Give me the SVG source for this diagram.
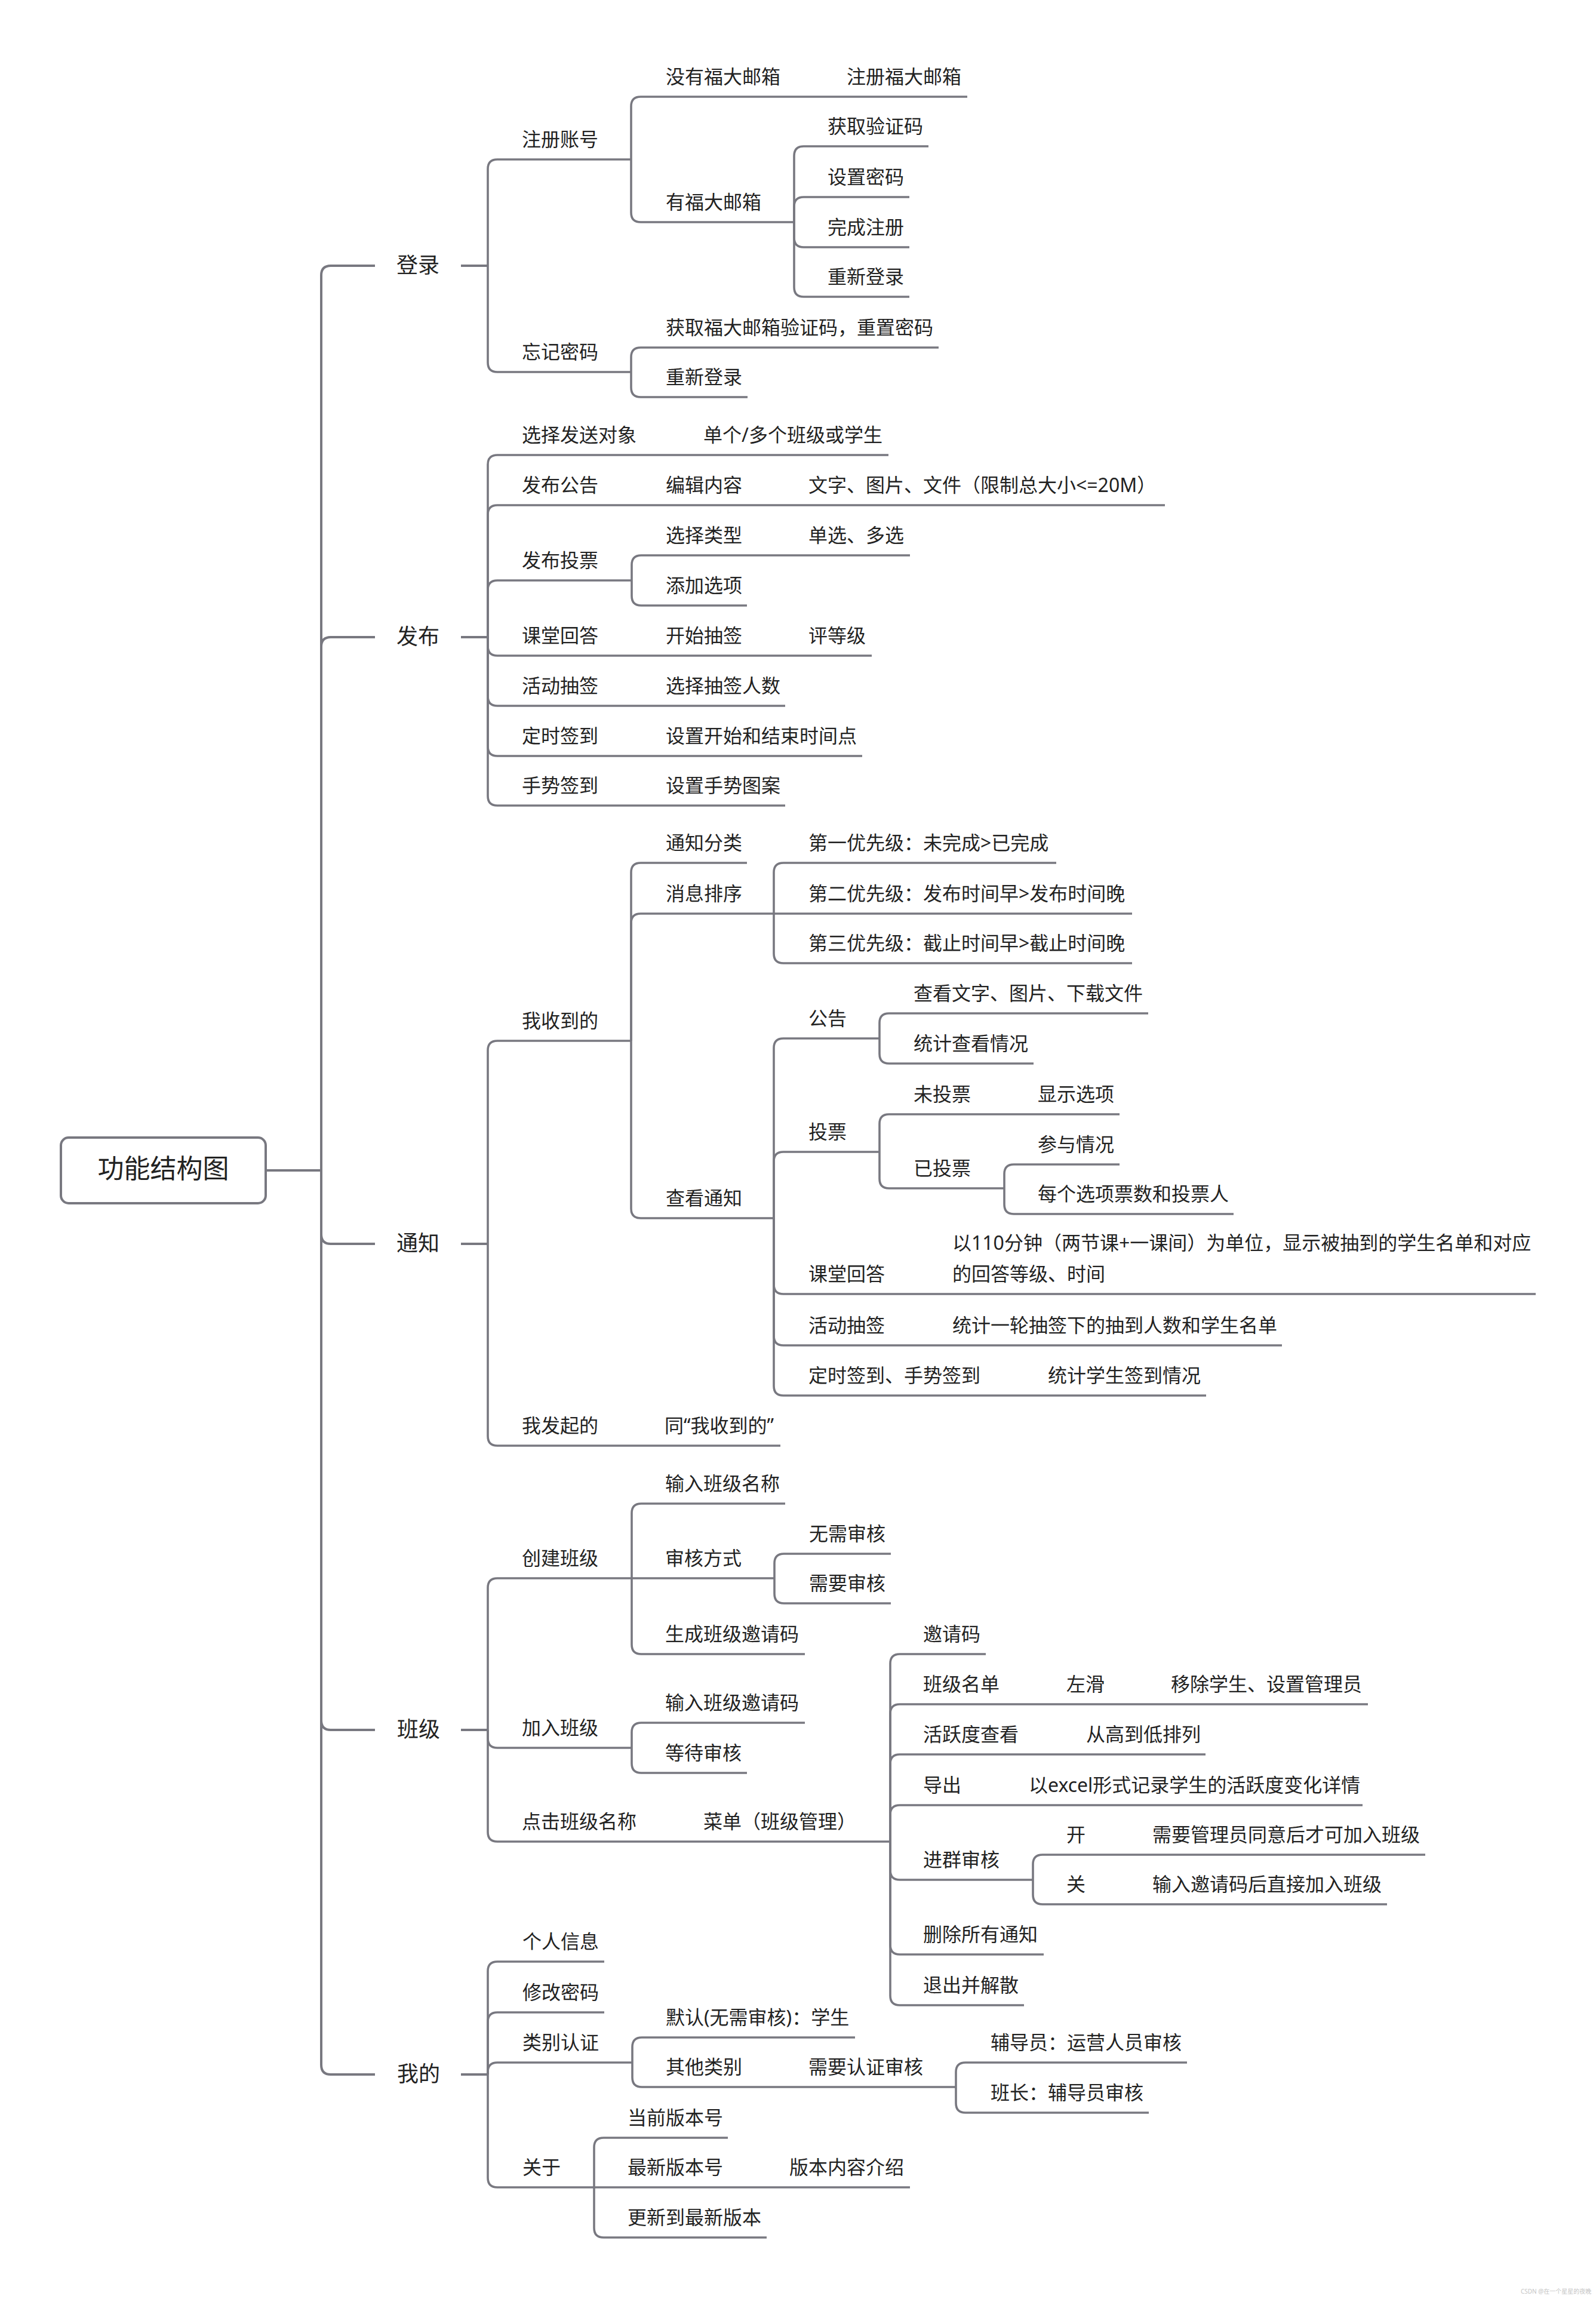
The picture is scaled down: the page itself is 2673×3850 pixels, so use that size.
<svg xmlns="http://www.w3.org/2000/svg" width="2673" height="3850" viewBox="0 0 2673 3850">
<style>
.c{fill:none;stroke:#787880;stroke-width:3.6}
.m{stroke-width:4}
text{font-family:"Noto Sans","Noto Sans CJK SC",sans-serif;font-size:32px;fill:#222}
.t1{font-size:36px}
.t0{font-size:44px}
.wm{font-size:10px;fill:#c4c4c4}
</style>
<rect width="2673" height="3850" fill="#fff"/>
<g id="connectors">
<path class="c m" d="M445 1960H538"/>
<path class="c m" d="M538 1960V461Q538 445 554 445H628M772 445H817"/>
<path class="c m" d="M538 1960V1083Q538 1067 554 1067H628M772 1067H817"/>
<path class="c m" d="M538 1960V2067Q538 2083 554 2083H628M772 2083H817"/>
<path class="c m" d="M538 1960V2881Q538 2897 554 2897H628M772 2897H817"/>
<path class="c m" d="M538 1960V3458Q538 3474 554 3474H628M772 3474H817"/>
<!-- 登录 -->
<path class="c" d="M817 445V283Q817 267 833 267H1057"/>
<path class="c" d="M817 445V607Q817 623 833 623H1057"/>
<path class="c" d="M1057 267V178Q1057 162 1073 162H1620"/>
<path class="c" d="M1057 267V356Q1057 372 1073 372H1330"/>
<path class="c" d="M1330 372V261Q1330 245 1346 245H1555"/>
<path class="c" d="M1330 372V346Q1330 330 1346 330H1523"/>
<path class="c" d="M1330 372V398Q1330 414 1346 414H1523"/>
<path class="c" d="M1330 372V481Q1330 497 1346 497H1523"/>
<path class="c" d="M1057 623V598Q1057 582 1073 582H1572"/>
<path class="c" d="M1057 623V649Q1057 665 1073 665H1252"/>
<!-- 发布 -->
<path class="c" d="M817 1067V778Q817 762 833 762H1488"/>
<path class="c" d="M817 1067V862Q817 846 833 846H1951"/>
<path class="c" d="M817 1067V988Q817 972 833 972H1058"/>
<path class="c" d="M1058 972V946Q1058 930 1074 930H1524"/>
<path class="c" d="M1058 972V998Q1058 1014 1074 1014H1251"/>
<path class="c" d="M817 1067V1082Q817 1098 833 1098H1460"/>
<path class="c" d="M817 1067V1166Q817 1182 833 1182H1315"/>
<path class="c" d="M817 1067V1250Q817 1266 833 1266H1444"/>
<path class="c" d="M817 1067V1333Q817 1349 833 1349H1315"/>
<!-- 通知 -->
<path class="c" d="M817 2083V1759Q817 1743 833 1743H1057"/>
<path class="c" d="M817 2083V2405Q817 2421 833 2421H1307"/>
<path class="c" d="M1057 1743V1461Q1057 1445 1073 1445H1251"/>
<path class="c" d="M1057 1743V1546Q1057 1530 1073 1530H1296"/>
<path class="c" d="M1057 1743V2024Q1057 2040 1073 2040H1296"/>
<path class="c" d="M1296 1530V1461Q1296 1445 1312 1445H1769"/>
<path class="c" d="M1296 1530H1896"/>
<path class="c" d="M1296 1530V1597Q1296 1613 1312 1613H1896"/>
<path class="c" d="M1296 2040V1755Q1296 1739 1312 1739H1473"/>
<path class="c" d="M1296 2040V1945Q1296 1929 1312 1929H1473"/>
<path class="c" d="M1296 2040V2151Q1296 2167 1312 2167H2572"/>
<path class="c" d="M1296 2040V2237Q1296 2253 1312 2253H2147"/>
<path class="c" d="M1296 2040V2321Q1296 2337 1312 2337H2020"/>
<path class="c" d="M1473 1739V1713Q1473 1697 1489 1697H1923"/>
<path class="c" d="M1473 1739V1765Q1473 1781 1489 1781H1731"/>
<path class="c" d="M1473 1929V1882Q1473 1866 1489 1866H1875"/>
<path class="c" d="M1473 1929V1974Q1473 1990 1489 1990H1682"/>
<path class="c" d="M1682 1990V1966Q1682 1950 1698 1950H1875"/>
<path class="c" d="M1682 1990V2017Q1682 2033 1698 2033H2066"/>
<!-- 班级 -->
<path class="c" d="M817 2897V2659Q817 2643 833 2643H1058"/>
<path class="c" d="M817 2897V2911Q817 2927 833 2927H1058"/>
<path class="c" d="M817 2897V3068Q817 3084 833 3084H1491"/>
<path class="c" d="M1058 2643V2534Q1058 2518 1074 2518H1315"/>
<path class="c" d="M1058 2643H1297"/>
<path class="c" d="M1058 2643V2754Q1058 2770 1074 2770H1348"/>
<path class="c" d="M1297 2643V2618Q1297 2602 1313 2602H1492"/>
<path class="c" d="M1297 2643V2669Q1297 2685 1313 2685H1492"/>
<path class="c" d="M1058 2927V2901Q1058 2885 1074 2885H1348"/>
<path class="c" d="M1058 2927V2953Q1058 2969 1074 2969H1251"/>
<path class="c" d="M1491 3084V2786Q1491 2770 1507 2770H1651"/>
<path class="c" d="M1491 3084V2870Q1491 2854 1507 2854H2291"/>
<path class="c" d="M1491 3084V2954Q1491 2938 1507 2938H2019"/>
<path class="c" d="M1491 3084V3039Q1491 3023 1507 3023H2282"/>
<path class="c" d="M1491 3084V3132Q1491 3148 1507 3148H1730"/>
<path class="c" d="M1491 3084V3257Q1491 3273 1507 3273H1748"/>
<path class="c" d="M1491 3084V3342Q1491 3358 1507 3358H1715"/>
<path class="c" d="M1730 3148V3122Q1730 3106 1746 3106H2387"/>
<path class="c" d="M1730 3148V3173Q1730 3189 1746 3189H2323"/>
<!-- 我的 -->
<path class="c" d="M817 3474V3301Q817 3285 833 3285H1012"/>
<path class="c" d="M817 3474V3386Q817 3370 833 3370H1012"/>
<path class="c" d="M817 3474V3470Q817 3454 833 3454H1059"/>
<path class="c" d="M817 3474V3647Q817 3663 833 3663H995"/>
<path class="c" d="M1059 3454V3428Q1059 3412 1075 3412H1432"/>
<path class="c" d="M1059 3454V3479Q1059 3495 1075 3495H1601"/>
<path class="c" d="M1601 3495V3470Q1601 3454 1617 3454H1988"/>
<path class="c" d="M1601 3495V3522Q1601 3538 1617 3538H1924"/>
<path class="c" d="M995 3663V3596Q995 3580 1011 3580H1219"/>
<path class="c" d="M995 3663H1524"/>
<path class="c" d="M995 3663V3731Q995 3747 1011 3747H1284"/>
</g>
<g id="root"><rect x="102" y="1905" width="343" height="110" rx="13" fill="#fff" stroke="#787880" stroke-width="4"/><text class="t0" x="273.5" y="1973" text-anchor="middle">功能结构图</text></g>
<g id="login"><text class="t1" x="664" y="457">登录</text></g>
<g id="n-zczh"><text x="874" y="245">注册账号</text></g>
<g id="n-myfd"><text x="1115" y="140">没有福大邮箱</text></g>
<g id="n-zcfd"><text x="1418" y="140">注册福大邮箱</text></g>
<g id="n-yfd"><text x="1115" y="350">有福大邮箱</text></g>
<g id="n-hqyzm"><text x="1386" y="223">获取验证码</text></g>
<g id="n-szmm"><text x="1386" y="308">设置密码</text></g>
<g id="n-wczc"><text x="1386" y="392">完成注册</text></g>
<g id="n-cxdl1"><text x="1386" y="475">重新登录</text></g>
<g id="n-wjmm"><text x="874" y="601">忘记密码</text></g>
<g id="n-hqfd"><text x="1115" y="560">获取福大邮箱验证码，重置密码</text></g>
<g id="n-cxdl2"><text x="1115" y="643">重新登录</text></g>
<g id="publish"><text class="t1" x="664" y="1079">发布</text></g>
<g id="n-xzfs"><text x="874" y="740">选择发送对象</text></g>
<g id="n-dg"><text x="1178" y="740">单个/多个班级或学生</text></g>
<g id="n-fbgg"><text x="874" y="824">发布公告</text></g>
<g id="n-bjnr"><text x="1115" y="824">编辑内容</text></g>
<g id="n-wz"><text x="1354" y="824">文字、图片、文件（限制总大小&lt;=20M）</text></g>
<g id="n-fbtp"><text x="874" y="950">发布投票</text></g>
<g id="n-xzlx"><text x="1115" y="908">选择类型</text></g>
<g id="n-dx"><text x="1354" y="908">单选、多选</text></g>
<g id="n-tjxx"><text x="1115" y="992">添加选项</text></g>
<g id="n-kthd1"><text x="874" y="1076">课堂回答</text></g>
<g id="n-kscq"><text x="1115" y="1076">开始抽签</text></g>
<g id="n-pdj"><text x="1354" y="1076">评等级</text></g>
<g id="n-hdcq1"><text x="874" y="1160">活动抽签</text></g>
<g id="n-xzcq"><text x="1115" y="1160">选择抽签人数</text></g>
<g id="n-dsqd"><text x="874" y="1244">定时签到</text></g>
<g id="n-szks"><text x="1115" y="1244">设置开始和结束时间点</text></g>
<g id="n-ssqd"><text x="874" y="1327">手势签到</text></g>
<g id="n-szss"><text x="1115" y="1327">设置手势图案</text></g>
<g id="notice"><text class="t1" x="664" y="2095">通知</text></g>
<g id="n-wsdd"><text x="874" y="1721">我收到的</text></g>
<g id="n-tzfl"><text x="1115" y="1423">通知分类</text></g>
<g id="n-xxpx"><text x="1115" y="1508">消息排序</text></g>
<g id="n-p1"><text x="1354" y="1423">第一优先级：未完成&gt;已完成</text></g>
<g id="n-p2"><text x="1354" y="1508">第二优先级：发布时间早&gt;发布时间晚</text></g>
<g id="n-p3"><text x="1354" y="1591">第三优先级：截止时间早&gt;截止时间晚</text></g>
<g id="n-cktz"><text x="1115" y="2018">查看通知</text></g>
<g id="n-gg"><text x="1354" y="1717">公告</text></g>
<g id="n-ckwz"><text x="1530" y="1675">查看文字、图片、下载文件</text></g>
<g id="n-tjck"><text x="1530" y="1759">统计查看情况</text></g>
<g id="n-tp"><text x="1354" y="1907">投票</text></g>
<g id="n-wtp"><text x="1530" y="1844">未投票</text></g>
<g id="n-xsxx"><text x="1738" y="1844">显示选项</text></g>
<g id="n-ytp"><text x="1530" y="1968">已投票</text></g>
<g id="n-cyqk"><text x="1738" y="1928">参与情况</text></g>
<g id="n-mgxx"><text x="1738" y="2011">每个选项票数和投票人</text></g>
<g id="n-kthd2"><text x="1354" y="2145">课堂回答</text></g>
<g id="n-y110"><text x="1595" y="2093">以110分钟（两节课+一课间）为单位，显示被抽到的学生名单和对应</text><text x="1595" y="2145">的回答等级、时间</text></g>
<g id="n-hdcq2"><text x="1354" y="2231">活动抽签</text></g>
<g id="n-tjyl"><text x="1595" y="2231">统计一轮抽签下的抽到人数和学生名单</text></g>
<g id="n-dsss"><text x="1354" y="2315">定时签到、手势签到</text></g>
<g id="n-tjxs"><text x="1755" y="2315">统计学生签到情况</text></g>
<g id="n-wfqd"><text x="874" y="2399">我发起的</text></g>
<g id="n-t"><text x="1113" y="2399">同“我收到的”</text></g>
<g id="class"><text class="t1" x="665" y="2909">班级</text></g>
<g id="n-cjbj"><text x="874" y="2621">创建班级</text></g>
<g id="n-srmc"><text x="1114" y="2496">输入班级名称</text></g>
<g id="n-shfs"><text x="1114" y="2621">审核方式</text></g>
<g id="n-wxsh"><text x="1355" y="2580">无需审核</text></g>
<g id="n-xysh"><text x="1355" y="2663">需要审核</text></g>
<g id="n-scyq"><text x="1114" y="2748">生成班级邀请码</text></g>
<g id="n-jrbj"><text x="874" y="2905">加入班级</text></g>
<g id="n-sryq"><text x="1114" y="2863">输入班级邀请码</text></g>
<g id="n-ddsh"><text x="1114" y="2947">等待审核</text></g>
<g id="n-djmc"><text x="874" y="3062">点击班级名称</text></g>
<g id="n-cd"><text x="1178" y="3062">菜单（班级管理）</text></g>
<g id="n-yqm"><text x="1546" y="2748">邀请码</text></g>
<g id="n-bjmd"><text x="1546" y="2832">班级名单</text></g>
<g id="n-zh"><text x="1786" y="2832">左滑</text></g>
<g id="n-ycxs"><text x="1961" y="2832">移除学生、设置管理员</text></g>
<g id="n-hyd"><text x="1546" y="2916">活跃度查看</text></g>
<g id="n-cgdd"><text x="1819" y="2916">从高到低排列</text></g>
<g id="n-dc"><text x="1546" y="3001">导出</text></g>
<g id="n-excel"><text x="1723" y="3001">以excel形式记录学生的活跃度变化详情</text></g>
<g id="n-jqsh"><text x="1546" y="3126">进群审核</text></g>
<g id="n-k"><text x="1786" y="3084">开</text></g>
<g id="n-xygl"><text x="1930" y="3084">需要管理员同意后才可加入班级</text></g>
<g id="n-g"><text x="1786" y="3167">关</text></g>
<g id="n-sryqh"><text x="1930" y="3167">输入邀请码后直接加入班级</text></g>
<g id="n-scsy"><text x="1546" y="3251">删除所有通知</text></g>
<g id="n-tcjs"><text x="1546" y="3336">退出并解散</text></g>
<g id="mine"><text class="t1" x="665" y="3486">我的</text></g>
<g id="n-grxx"><text x="875" y="3263">个人信息</text></g>
<g id="n-xgmm"><text x="875" y="3348">修改密码</text></g>
<g id="n-lbrz"><text x="875" y="3432">类别认证</text></g>
<g id="n-mr"><text x="1115" y="3390">默认(无需审核)：学生</text></g>
<g id="n-qtlb"><text x="1115" y="3473">其他类别</text></g>
<g id="n-xyrz"><text x="1354" y="3473">需要认证审核</text></g>
<g id="n-fdy"><text x="1659" y="3432">辅导员：运营人员审核</text></g>
<g id="n-bz"><text x="1659" y="3516">班长：辅导员审核</text></g>
<g id="n-gy"><text x="875" y="3641">关于</text></g>
<g id="n-dqbb"><text x="1051" y="3558">当前版本号</text></g>
<g id="n-zxbb"><text x="1051" y="3641">最新版本号</text></g>
<g id="n-bbnr"><text x="1322" y="3641">版本内容介绍</text></g>
<g id="n-gxdz"><text x="1051" y="3725">更新到最新版本</text></g>
<text class="wm" x="2547" y="3841">CSDN @在一个星星的夜晚</text>
</svg>
